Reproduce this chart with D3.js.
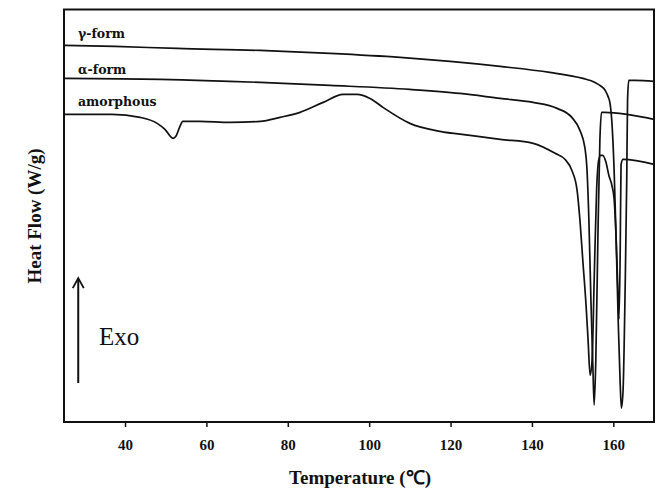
<!DOCTYPE html>
<html>
<head>
<meta charset="utf-8">
<script src="https://cdn.jsdelivr.net/npm/d3@7"></script>
<style>
  html, body { margin: 0; padding: 0; background: #fff; }
  svg { display: block; }
</style>
</head>
<body>
<svg id="chart" width="661" height="490"></svg>
<script>
// DSC heating scans: temperature (°C) and heat flow (arbitrary offset units, exo up)
const gammaT = [25.0, 37.5, 52.8, 73.2, 90.4, 107.6, 119.9, 132.2, 144.4, 152.5, 155.5, 156.7, 158.0, 158.7, 159.2, 159.7, 160.2, 160.7, 161.2, 161.7, 162.0, 162.4, 162.9, 163.3, 163.5, 163.8, 165.4, 170.0];
const gammaHF = [-3.6, -3.7, -3.9, -4.1, -4.4, -4.8, -5.2, -5.7, -6.3, -6.9, -7.3, -7.6, -8.1, -8.7, -9.4, -11.6, -16.1, -23.1, -31.1, -37.6, -39.9, -38.1, -28.1, -17.1, -9.1, -7.1, -7.1, -7.2];

const alphaT = [25.0, 48.6, 73.2, 90.4, 110.0, 122.3, 132.2, 140.3, 146.2, 149.8, 151.8, 153.0, 153.5, 154.0, 154.5, 155.0, 155.3, 155.7, 156.2, 156.7, 157.1, 157.9, 170.0];
const alphaHF = [-6.9, -7.0, -7.3, -7.6, -8.0, -8.4, -8.9, -9.3, -9.9, -10.8, -12.1, -13.8, -15.8, -21.1, -29.1, -36.1, -39.6, -35.1, -23.1, -13.1, -10.3, -10.3, -11.0];

const amorT = [25.0, 36.8, 43.7, 47.9, 49.8, 51.8, 52.5, 53.5, 54.2, 58.4, 65.8, 73.2, 78.1, 83.0, 88.7, 93.6, 97.0, 100.2, 103.4, 110.0, 117.4, 124.8, 132.2, 140.3, 145.7, 148.1, 149.8, 151.1, 151.8, 152.5, 153.3, 153.8, 154.3, 154.8, 155.3, 155.9, 156.4, 156.9, 157.4, 158.2, 158.9, 159.7, 160.2, 160.7, 161.2, 161.4, 161.7, 161.9, 162.4, 170.0];
const amorHF = [-10.5, -10.5, -10.8, -11.4, -12.0, -12.9, -12.7, -11.7, -11.2, -11.2, -11.3, -11.2, -10.8, -10.3, -9.3, -8.5, -8.5, -8.9, -9.8, -11.4, -12.2, -12.6, -13.0, -13.4, -14.4, -15.0, -16.1, -18.1, -21.1, -25.1, -29.6, -33.1, -36.6, -35.0, -27.0, -18.0, -15.1, -14.6, -14.6, -15.3, -16.6, -17.7, -19.0, -23.0, -29.0, -31.0, -24.0, -15.5, -15.0, -15.5];

const seriesNames = ["γ-form", "α-form", "amorphous"];
const xTicks = [40, 60, 80, 100, 120, 140, 160];

const svg = d3.select("#chart");
const margin = { left: 64, top: 9.5, right: 654, bottom: 422 };

const x = d3.scaleLinear().domain([25, 170]).range([margin.left, margin.right]);
const y = d3.scaleLinear().domain([-41.3, 0]).range([margin.bottom, margin.top]);

const line = d3.line()
  .x(d => x(d[0]))
  .y(d => y(d[1]))
  .curve(d3.curveMonotoneX);

const curves = [
  d3.zip(gammaT, gammaHF),
  d3.zip(alphaT, alphaHF),
  d3.zip(amorT, amorHF)
];

svg.append("g")
  .selectAll("path")
  .data(curves)
  .join("path")
  .attr("d", line)
  .attr("fill", "none")
  .attr("stroke", "#111")
  .attr("stroke-width", 1.7)
  .attr("stroke-linejoin", "round");

// plot frame
svg.append("rect")
  .attr("x", margin.left)
  .attr("y", margin.top)
  .attr("width", margin.right - margin.left)
  .attr("height", margin.bottom - margin.top)
  .attr("fill", "none")
  .attr("stroke", "#111")
  .attr("stroke-width", 2);

// bottom axis: outward ticks, bold serif labels
const xAxis = svg.append("g")
  .attr("transform", `translate(0,${margin.bottom})`)
  .call(d3.axisBottom(x).tickValues(xTicks).tickSize(5).tickFormat(d3.format("d")));
xAxis.select(".domain").remove();
xAxis.selectAll(".tick line").attr("stroke", "#111").attr("stroke-width", 1.5);
xAxis.selectAll(".tick text")
  .attr("y", 28)
  .attr("dy", 0)
  .attr("fill", "#111")
  .style("font-family", "'Liberation Serif', 'Times New Roman', serif")
  .style("font-weight", "bold")
  .style("font-size", "15px");

// series labels
const labelY = [38, 74, 106];
svg.append("g")
  .selectAll("text")
  .data(seriesNames)
  .join("text")
  .attr("x", 78)
  .attr("y", (d, i) => labelY[i])
  .text(d => d)
  .attr("fill", "#111")
  .style("font-family", "'DejaVu Serif', serif")
  .style("font-weight", "bold")
  .style("font-size", "12.5px");

// axis titles
svg.append("text")
  .attr("x", 360)
  .attr("y", 484)
  .attr("text-anchor", "middle")
  .attr("fill", "#111")
  .style("font-family", "'Liberation Serif', 'Times New Roman', serif")
  .style("font-weight", "bold")
  .style("font-size", "19px")
  .text("Temperature (℃)");

svg.append("text")
  .attr("transform", "translate(41,216) rotate(-90)")
  .attr("text-anchor", "middle")
  .attr("fill", "#111")
  .style("font-family", "'Liberation Serif', 'Times New Roman', serif")
  .style("font-weight", "bold")
  .style("font-size", "19px")
  .text("Heat Flow (W/g)");

// exotherm direction arrow
const ax = x(28.5), ay0 = y(-37.4), ay1 = y(-26.9);
svg.append("line")
  .attr("x1", ax).attr("x2", ax)
  .attr("y1", ay0).attr("y2", ay1 + 1)
  .attr("stroke", "#111").attr("stroke-width", 2);
svg.append("path")
  .attr("d", `M${ax - 5.5},${ay1 + 10} L${ax},${ay1} L${ax + 5.5},${ay1 + 10}`)
  .attr("fill", "none").attr("stroke", "#111").attr("stroke-width", 1.8);
svg.append("text")
  .attr("x", 99)
  .attr("y", 345)
  .attr("fill", "#111")
  .style("font-family", "'Liberation Serif', 'Times New Roman', serif")
  .style("font-size", "25px")
  .text("Exo");
</script>
</body>
</html>
